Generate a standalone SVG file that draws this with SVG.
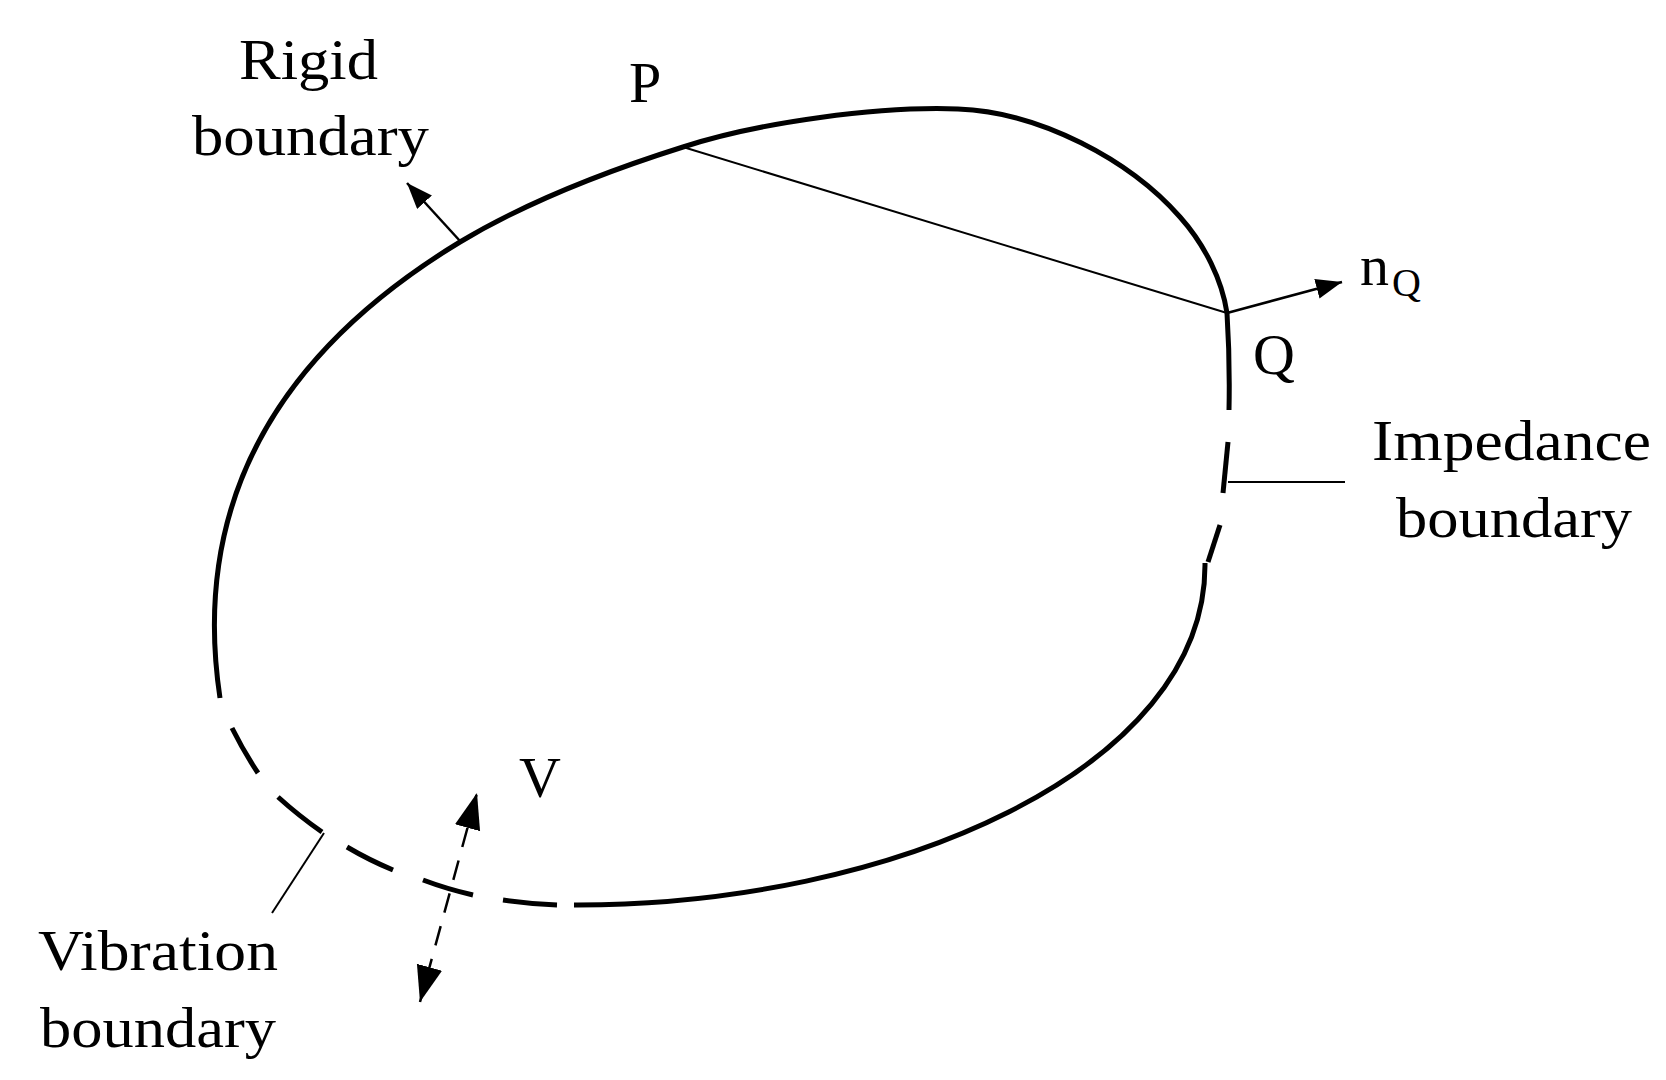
<svg xmlns="http://www.w3.org/2000/svg" width="1666" height="1080" viewBox="0 0 1666 1080">
<style>
.bd{fill:none;stroke:#000;stroke-width:5;stroke-linecap:butt}
.thin{fill:none;stroke:#000;stroke-width:2}
.arr{fill:none;stroke:#000;stroke-width:2.5}
.lbl{font-family:"Liberation Serif","Times New Roman",serif;font-size:58px;fill:#000}
.sub{font-family:"Liberation Serif","Times New Roman",serif;font-size:40px;fill:#000}
</style>
<defs>
<marker id="ah" markerUnits="userSpaceOnUse" markerWidth="30" markerHeight="24" refX="26" refY="10" orient="auto-start-reverse">
<path d="M0,0 L26,10 L0,20 Z" fill="#000"/>
</marker>
<marker id="ahv" markerUnits="userSpaceOnUse" markerWidth="40" markerHeight="30" refX="36" refY="13" orient="auto-start-reverse">
<path d="M0,0 L36,13 L0,26 Z" fill="#000"/>
</marker>
</defs>
<rect width="1666" height="1080" fill="#fff"/>
<g id="boundary">
<path class="bd" d="M220,698 C187,478 305,336 460,242 C530,200 610,170 683,147 C760,122 880,106 958,109 C1040,112 1130,160 1180,217 C1205,245 1222,280 1227,313 Q1230,360 1229,410"/>
<path class="bd" d="M1228,442 L1223,493"/>
<path class="bd" d="M1220,525 L1208,562"/>
<path class="bd" d="M1205,563 C1207,770 890,906 574,905"/>
<path class="bd" d="M232,728 Q244,752 258,773"/>
<path class="bd" d="M278,797 Q299,816 322,832"/>
<path class="bd" d="M347,847 Q369,860 393,870"/>
<path class="bd" d="M423,880 Q447,889 473,895"/>
<path class="bd" d="M503,900 Q530,904 557,905"/>
</g>
<g id="connectors">
<line class="thin" x1="683" y1="147" x2="1227" y2="313"/>
<line class="arr" x1="460" y1="241" x2="407" y2="183" marker-end="url(#ah)"/>
<line class="arr" x1="1227" y1="313" x2="1342" y2="282" marker-end="url(#ah)"/>
<line class="thin" x1="1228" y1="482" x2="1345" y2="482"/>
<line class="thin" x1="324" y1="833" x2="272" y2="913"/>
<line class="arr" x1="477" y1="793" x2="420" y2="1002" stroke-dasharray="20 14" stroke-dashoffset="-2" marker-start="url(#ahv)" marker-end="url(#ahv)"/>
</g>
<g id="labels">
<text class="lbl" x="239" y="79" textLength="139" lengthAdjust="spacingAndGlyphs">Rigid</text>
<text class="lbl" x="192" y="155" textLength="237" lengthAdjust="spacingAndGlyphs">boundary</text>
<text class="lbl" x="629" y="102">P</text>
<text class="lbl" x="1360" y="285">n</text>
<text class="sub" x="1392" y="296">Q</text>
<text class="lbl" x="1253" y="374">Q</text>
<text class="lbl" x="1372" y="460" textLength="279" lengthAdjust="spacingAndGlyphs">Impedance</text>
<text class="lbl" x="1396" y="537" textLength="236" lengthAdjust="spacingAndGlyphs">boundary</text>
<text class="lbl" x="519" y="797">V</text>
<text class="lbl" x="38" y="970" textLength="240" lengthAdjust="spacingAndGlyphs">Vibration</text>
<text class="lbl" x="40" y="1047" textLength="236" lengthAdjust="spacingAndGlyphs">boundary</text>
</g>
</svg>
